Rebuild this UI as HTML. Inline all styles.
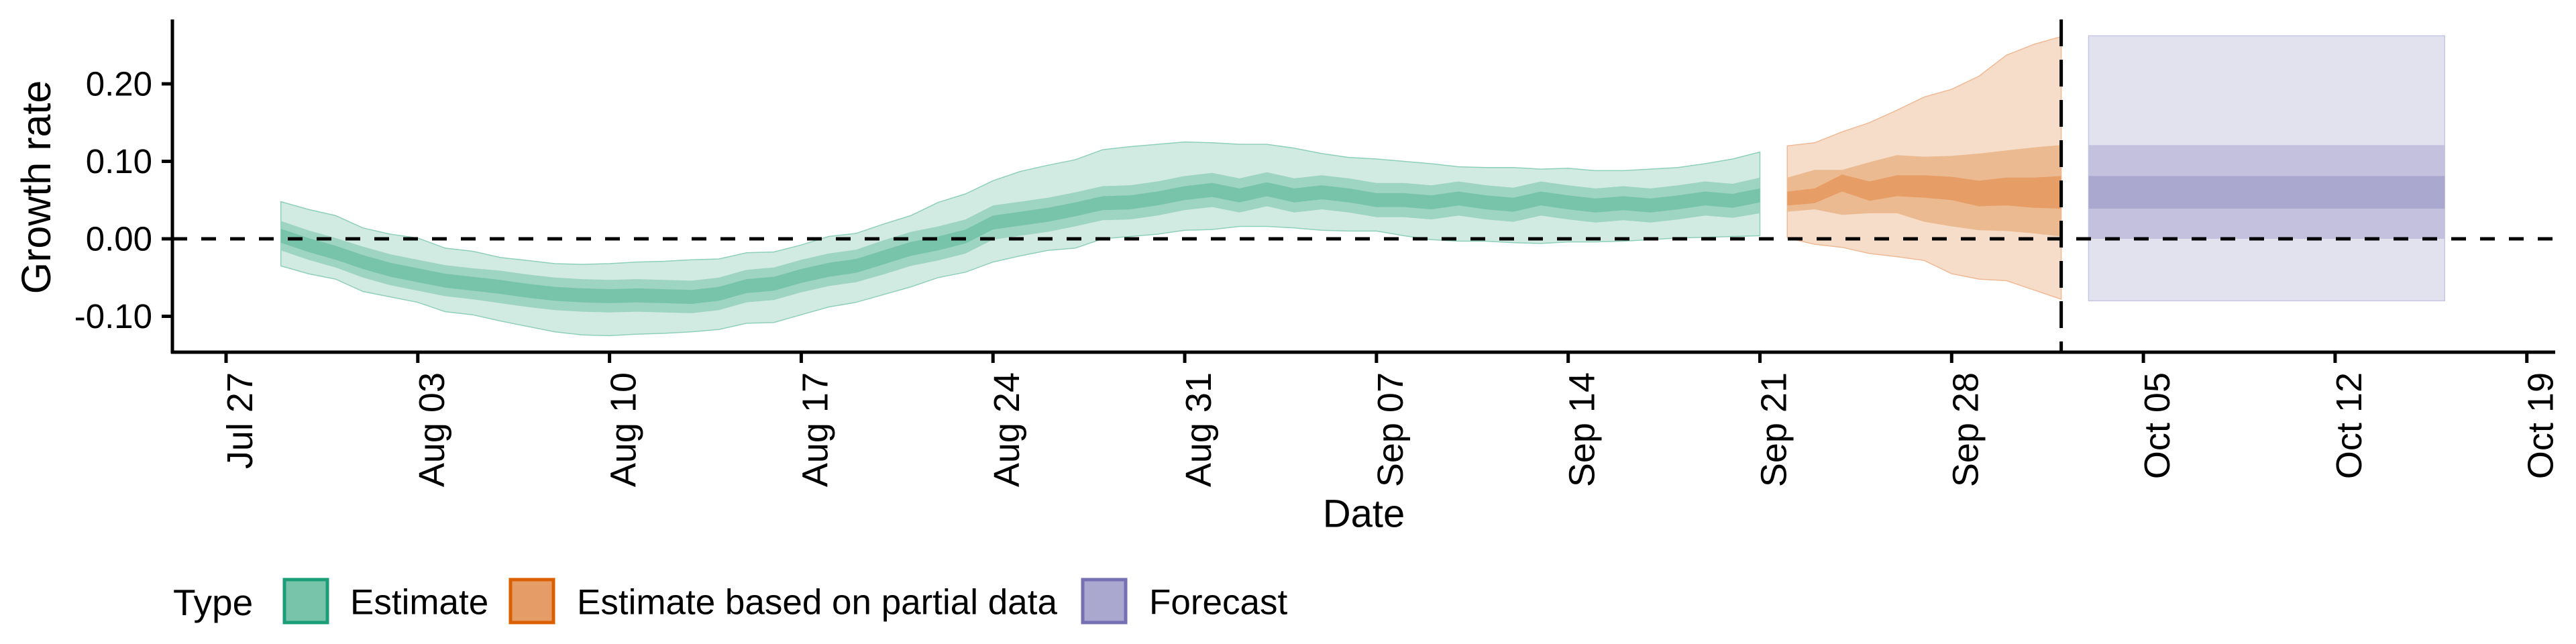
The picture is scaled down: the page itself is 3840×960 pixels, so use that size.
<!DOCTYPE html>
<html><head><meta charset="utf-8"><style>
html,body{margin:0;padding:0;background:#fff;}
svg{display:block;font-family:"Liberation Sans",sans-serif;}
</style></head><body>
<svg id="chart" width="3840" height="960" viewBox="0 0 3840 960" xmlns="http://www.w3.org/2000/svg">
<g id="plot"></g>
<g id="axes"></g>
<text x="54" y="279" font-size="61" text-anchor="middle" dominant-baseline="central" transform="rotate(-90 54 279)">Growth rate</text>
<text x="2033" y="766" font-size="58" text-anchor="middle" dominant-baseline="central">Date</text>
<g>
<text x="258" y="898" font-size="55" dominant-baseline="central">Type</text>
<g>
<rect x="424" y="864" width="64" height="64" fill="#78c4aa" stroke="#1b9e77" stroke-width="5"/>
<text x="522" y="898" font-size="53" dominant-baseline="central">Estimate</text></g>
<g>
<rect x="761" y="864" width="64" height="64" fill="#e69c66" stroke="#d95f02" stroke-width="5"/>
<text x="860" y="898" font-size="53" dominant-baseline="central">Estimate based on partial data</text></g>
<g>
<rect x="1614" y="864" width="64" height="64" fill="#aaa8cf" stroke="#7570b3" stroke-width="5"/>
<text x="1713" y="898" font-size="53" dominant-baseline="central">Forecast</text></g>
</g>
</svg>
<script>
// ---- data ----
const estDays = [2,3,4,5,6,7,8,9,10,11,12,13,14,15,16,17,18,19,20,21,22,23,24,25,26,27,28,29,30,31,32,33,34,35,36,37,38,39,40,41,42,43,44,45,46,47,48,49,50,51,52,53,54,55,56];
const estMedian = [0.004,-0.008,-0.018,-0.030,-0.040,-0.047,-0.054,-0.058,-0.062,-0.067,-0.071,-0.073,-0.074,-0.073,-0.074,-0.075,-0.071,-0.061,-0.058,-0.048,-0.040,-0.035,-0.024,-0.013,-0.006,0.003,0.021,0.026,0.031,0.038,0.046,0.047,0.052,0.059,0.063,0.056,0.064,0.056,0.060,0.056,0.050,0.050,0.047,0.052,0.047,0.044,0.052,0.047,0.043,0.046,0.043,0.047,0.052,0.049,0.056];
const estHi90 = [0.048,0.038,0.030,0.014,0.006,0.001,-0.012,-0.016,-0.024,-0.028,-0.032,-0.033,-0.032,-0.030,-0.029,-0.027,-0.026,-0.018,-0.017,-0.008,0.003,0.007,0.019,0.030,0.047,0.058,0.075,0.087,0.095,0.102,0.115,0.119,0.122,0.125,0.124,0.122,0.122,0.117,0.110,0.105,0.103,0.100,0.097,0.093,0.092,0.092,0.090,0.091,0.088,0.088,0.090,0.092,0.097,0.103,0.112];
const estLo90 = [-0.035,-0.045,-0.052,-0.068,-0.075,-0.082,-0.094,-0.098,-0.106,-0.113,-0.120,-0.124,-0.125,-0.123,-0.122,-0.120,-0.117,-0.109,-0.108,-0.098,-0.088,-0.082,-0.072,-0.062,-0.050,-0.043,-0.030,-0.022,-0.015,-0.012,0.000,0.003,0.006,0.011,0.012,0.016,0.016,0.014,0.011,0.010,0.010,0.004,-0.001,-0.003,-0.003,-0.005,-0.006,-0.004,-0.004,-0.003,-0.001,0.001,0.002,0.003,0.004];
const estW50 = [0.019,0.019,0.019,0.020,0.020,0.020,0.020,0.020,0.021,0.021,0.021,0.021,0.021,0.021,0.021,0.021,0.021,0.021,0.021,0.021,0.021,0.021,0.022,0.022,0.022,0.022,0.022,0.022,0.022,0.022,0.022,0.022,0.022,0.022,0.022,0.022,0.022,0.022,0.022,0.022,0.022,0.022,0.022,0.022,0.022,0.022,0.022,0.022,0.022,0.022,0.022,0.022,0.022,0.022,0.023];
const estW20 = [0.009,0.009,0.009,0.009,0.009,0.009,0.009,0.009,0.009,0.009,0.009,0.009,0.009,0.009,0.009,0.009,0.009,0.009,0.009,0.009,0.009,0.009,0.009,0.009,0.009,0.009,0.009,0.009,0.009,0.009,0.009,0.009,0.009,0.009,0.009,0.009,0.009,0.009,0.009,0.009,0.009,0.009,0.009,0.009,0.009,0.009,0.009,0.009,0.009,0.009,0.009,0.009,0.009,0.009,0.009];

const partDays = [57,58,59,60,61,62,63,64,65,66,67];
const partHi90 = [0.120,0.124,0.138,0.150,0.166,0.183,0.193,0.210,0.237,0.251,0.261];
const partLo90 = [0.001,-0.007,-0.011,-0.019,-0.023,-0.028,-0.045,-0.052,-0.054,-0.066,-0.078];
const partHi50 = [0.079,0.089,0.089,0.099,0.108,0.106,0.107,0.110,0.114,0.118,0.121];
const partLo50 = [0.035,0.038,0.031,0.033,0.033,0.022,0.016,0.011,0.010,0.007,0.003];
const partHi20 = [0.061,0.065,0.083,0.074,0.082,0.082,0.080,0.075,0.079,0.079,0.081];
const partLo20 = [0.043,0.046,0.061,0.049,0.055,0.053,0.050,0.042,0.043,0.040,0.039];

const fcDays = [68,69,70,71,72,73,74,75,76,77,78,79,80,81];
const fcHi90 = [0.262,0.262,0.262,0.262,0.262,0.262,0.262,0.262,0.262,0.262,0.262,0.262,0.262,0.262];
const fcLo90 = [-0.080,-0.080,-0.080,-0.080,-0.080,-0.080,-0.080,-0.080,-0.080,-0.080,-0.080,-0.080,-0.080,-0.080];
const fcHi50 = [0.121,0.121,0.121,0.121,0.121,0.121,0.121,0.121,0.121,0.121,0.121,0.121,0.121,0.121];
const fcLo50 = [0.000,0.000,0.000,0.000,0.000,0.000,0.000,0.000,0.000,0.000,0.000,0.000,0.000,0.000];
const fcHi20 = [0.081,0.081,0.081,0.081,0.081,0.081,0.081,0.081,0.081,0.081,0.081,0.081,0.081,0.081];
const fcLo20 = [0.039,0.039,0.039,0.039,0.039,0.039,0.039,0.039,0.039,0.039,0.039,0.039,0.039,0.039];

const yTicks = [0.20,0.10,0.00,-0.10];
const yTickLabels = ["0.20","0.10","0.00","-0.10"];
const xTickDays = [0,7,14,21,28,35,42,49,56,63,70,77,84];
const xTickLabels = ["Jul 27","Aug 03","Aug 10","Aug 17","Aug 24","Aug 31","Sep 07","Sep 14","Sep 21","Sep 28","Oct 05","Oct 12","Oct 19"];
const dataCutoffDay = 67;

// ---- scales ----
const X0 = 337, PX_PER_DAY = 40.83;
const Y0 = 356, PX_PER_UNIT = 1155;
const xs = d => X0 + d * PX_PER_DAY;
const ys = v => Y0 - v * PX_PER_UNIT;
const NS = "http://www.w3.org/2000/svg";
const plot = document.getElementById('plot');
const axes = document.getElementById('axes');

function ribbon(days, lo, hi, fill, stroke, name) {
  const top = days.map((d,i)=>xs(d).toFixed(1)+','+ys(hi[i]).toFixed(1));
  const bot = days.map((d,i)=>xs(d).toFixed(1)+','+ys(lo[i]).toFixed(1)).reverse();
  const p = document.createElementNS(NS,'polygon');
  p.setAttribute('points', top.concat(bot).join(' '));
  p.setAttribute('fill', fill);
  if (stroke) { p.setAttribute('stroke', stroke); p.setAttribute('stroke-width', '1.5'); }
  
  
  plot.appendChild(p);
}
const add = (a,b)=>a.map((v,i)=>v+b[i]);
const sub = (a,b)=>a.map((v,i)=>v-b[i]);

ribbon(estDays, estLo90, estHi90, '#d2ebe2', '#8fd0b9', 'estimate-band-90');
ribbon(estDays, sub(estMedian,estW50), add(estMedian,estW50), '#9dd4c2', null, 'estimate-band-50');
ribbon(estDays, sub(estMedian,estW20), add(estMedian,estW20), '#78c4ab', null, 'estimate-band-20');

ribbon(partDays, partLo90, partHi90, '#f6ddca', '#f0b995', 'partial-band-90');
ribbon(partDays, partLo50, partHi50, '#ecba90', null, 'partial-band-50');
ribbon(partDays, partLo20, partHi20, '#e69d66', null, 'partial-band-20');

ribbon(fcDays, fcLo90, fcHi90, '#e2e2ef', '#c8c6e2', 'forecast-band-90');
ribbon(fcDays, fcLo50, fcHi50, '#c3c1dd', null, 'forecast-band-50');
ribbon(fcDays, fcLo20, fcHi20, '#aaa8cf', null, 'forecast-band-20');

function line(x1,y1,x2,y2,w,dash,name,parent){
  const l = document.createElementNS(NS,'line');
  l.setAttribute('x1',x1); l.setAttribute('y1',y1); l.setAttribute('x2',x2); l.setAttribute('y2',y2);
  l.setAttribute('stroke','#000'); l.setAttribute('stroke-width',w);
  if (dash) l.setAttribute('stroke-dasharray',dash);
  
  
  (parent||axes).appendChild(l);
}
line(257, ys(0), 3809, ys(0), 5, '22,21', 'zero-reference-line', plot);
line(xs(dataCutoffDay), 29, xs(dataCutoffDay), 525, 5, '40,20', 'data-cutoff-line', plot);

line(257, 29, 257, 527, 5, null, 'y-axis-line');
line(255, 525, 3809, 525, 5, null, 'x-axis-line');

yTicks.forEach((v,i)=>{
  line(241, ys(v), 257, ys(v), 5, null, 'y-tick');
  const t = document.createElementNS(NS,'text');
  t.setAttribute('x', 227); t.setAttribute('y', ys(v));
  t.setAttribute('font-size', '51'); t.setAttribute('text-anchor','end');
  t.setAttribute('dominant-baseline','central');
  t.textContent = yTickLabels[i];
  
  
  axes.appendChild(t);
});
xTickDays.forEach((d,i)=>{
  const x = xs(d);
  line(x, 525, x, 541, 5, null, 'x-tick');
  const t = document.createElementNS(NS,'text');
  const tx = x + 39, ty = 555;
  t.setAttribute('x', tx); t.setAttribute('y', ty);
  t.setAttribute('font-size', '54'); t.setAttribute('text-anchor','end');
  t.setAttribute('transform', 'rotate(-90 '+tx+' '+ty+')');
  t.textContent = xTickLabels[i];
  
  
  axes.appendChild(t);
});
</script>
</body></html>
